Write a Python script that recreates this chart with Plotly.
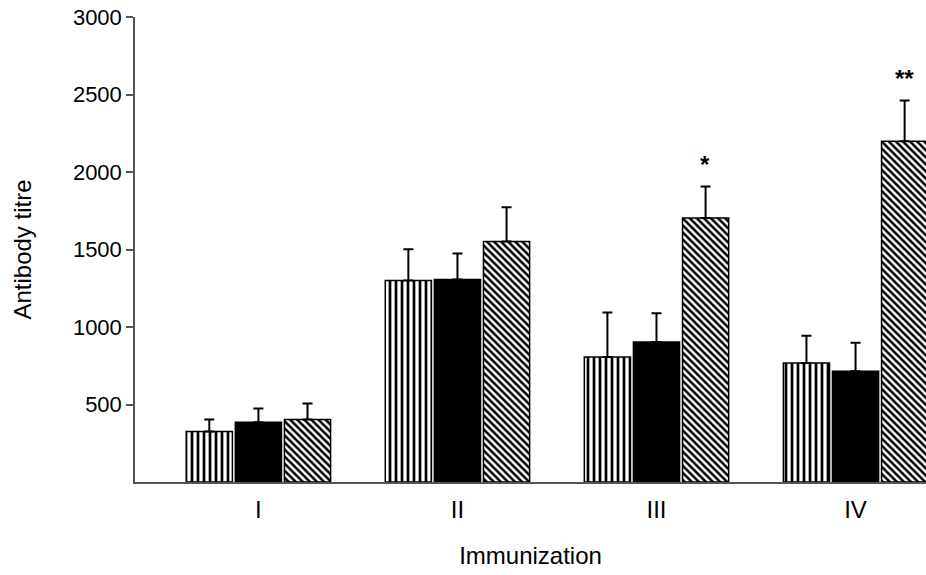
import plotly.graph_objects as go

categories = ["I", "II", "III", "IV"]

striped_vals = [326, 1300, 806, 767]
striped_err = [77, 202, 287, 177]

black_vals = [386, 1306, 903, 714]
black_err = [88, 168, 185, 185]

diag_vals = [403, 1552, 1704, 2199]
diag_err = [103, 221, 203, 263]

significance = ["", "", "*", "**"]

y_ticks = [500, 1000, 1500, 2000, 2500, 3000]

FONT = "Liberation Sans, Arial, sans-serif"

def err(arr):
    return dict(type="data", array=arr, arrayminus=[0] * len(arr), symmetric=False,
                color="black", thickness=2, width=5)

fig = go.Figure()
fig.add_trace(go.Bar(
    x=categories, y=striped_vals, error_y=err(striped_err),
    marker=dict(color="white", line=dict(color="black", width=1.5),
                pattern=dict(shape="|", size=6, solidity=0.45, fgcolor="black",
                             bgcolor="white", fillmode="replace")),
    showlegend=False))
fig.add_trace(go.Bar(
    x=categories, y=black_vals, error_y=err(black_err),
    marker=dict(color="black", line=dict(color="black", width=1.5)),
    showlegend=False))
fig.add_trace(go.Bar(
    x=categories, y=diag_vals, error_y=err(diag_err),
    marker=dict(color="white", line=dict(color="black", width=1.5),
                pattern=dict(shape="\\", size=5, solidity=0.5, fgcolor="black",
                             bgcolor="white", fillmode="replace")),
    showlegend=False))

for cat, v, e, s in zip(categories, diag_vals, diag_err, significance):
    if s:
        fig.add_annotation(x=cat, y=v + e, text="<b>" + s + "</b>", showarrow=False,
                           xref="x", yref="y", xshift=49, yshift=22,
                           font=dict(family=FONT, size=24, color="black"))

fig.update_layout(
    width=926, height=575,
    margin=dict(l=135, r=0, t=17, b=93),
    plot_bgcolor="white", paper_bgcolor="white",
    barmode="group", bargap=0.26, bargroupgap=0.06,
    font=dict(family=FONT, color="black"),
    xaxis=dict(
        range=[-0.62, 3.354], showline=True, linecolor="#555555", linewidth=1.5,
        ticks="", showgrid=False, zeroline=False,
        tickfont=dict(size=24), ticklabelstandoff=5,
        title=dict(text="Immunization", font=dict(size=24), standoff=26),
    ),
    yaxis=dict(
        range=[0, 3000], showline=True, linecolor="#555555", linewidth=1.5,
        ticks="outside", ticklen=7, tickcolor="#555555", tickwidth=1.5,
        tickvals=y_ticks, ticktext=[str(t) for t in y_ticks],
        showgrid=False, zeroline=False, tickfont=dict(size=22),
        title=dict(text="Antibody titre", font=dict(size=24), standoff=34),
    ),
)

fig.write_html("out.html", config={"displayModeBar": False},
               post_script="document.body.style.margin='0';document.body.style.overflow='hidden';")
